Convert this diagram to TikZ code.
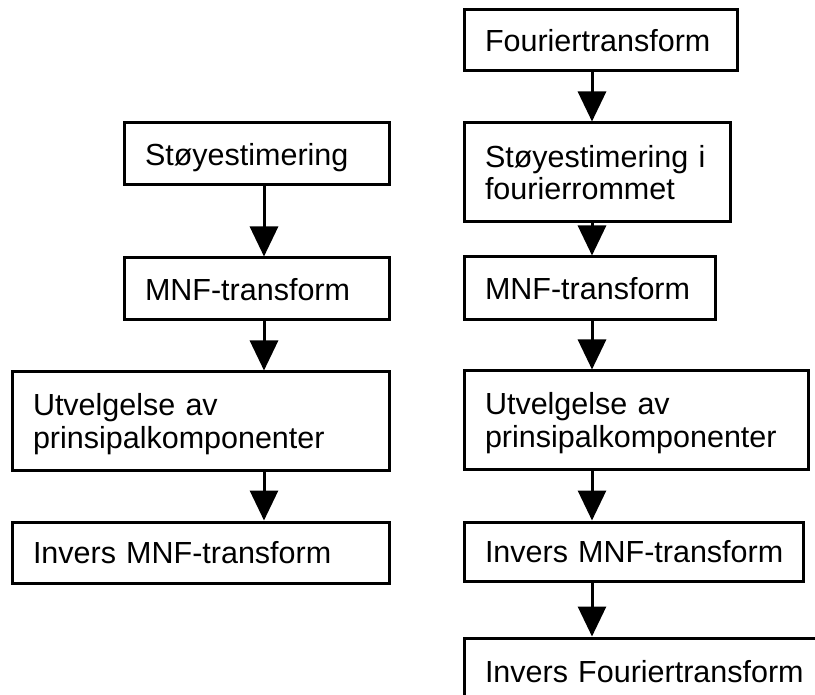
\documentclass[tikz,border=0pt]{standalone}
\usepackage{fontspec}
\setmainfont{Liberation Sans}
\usetikzlibrary{arrows.meta}
\begin{document}
\begin{tikzpicture}[x=1pt,y=-1pt,
  box/.style={draw=black, line width=3pt, rectangle, align=left,
    inner xsep=21pt, inner ysep=0pt, text depth=0pt,
    font=\fontsize{30.5}{32.5}\selectfont},
  twoline/.style={text depth=32.5pt},
  arr/.style={line width=3pt, -{Triangle[width=28pt,length=30pt]}}]
\useasboundingbox (0,0) rectangle (815,695);
\fill[white] (0,0) rectangle (815,695);
\clip (0,0) rectangle (815,695);

\coordinate (xl) at (264,0);
\coordinate (xr) at (592,0);

% left column
\node[box, text width=223pt, minimum height=62pt] (L1) at (256.5,154) {\mbox{Støyestimering}};
\node[box, text width=223pt, minimum height=62pt] (L2) at (256.5,289) {\mbox{MNF-transform}};
\node[box, twoline, text width=335pt, minimum height=98pt] (L3) at (200.5,421) {Utvelgelse av\\\mbox{prinsipalkomponenter}};
\node[box, text width=335pt, minimum height=61pt] (L4) at (200.5,552.5) {\mbox{Invers MNF-transform}};

% right column
\node[box, text width=231pt, minimum height=61pt] (R1) at (600.5,40.5) {\mbox{Fouriertransform}};
\node[box, twoline, text width=224pt, minimum height=99pt] (R2) at (597,172.5) {\mbox{Støyestimering i}\\fourierrommet};
\node[box, text width=209pt, minimum height=63pt] (R3) at (589.5,288.5) {\mbox{MNF-transform}};
\node[box, twoline, text width=302pt, minimum height=98pt] (R4) at (636,420) {Utvelgelse av\\\mbox{prinsipalkomponenter}};
\node[box, text width=297pt, minimum height=59pt] (R5) at (633.5,551.5) {\mbox{Invers MNF-transform}};
\node[box, text width=354pt, minimum height=66pt] (R6) at (662,671) {\mbox{Invers Fouriertransform}};

% arrows
\draw[arr] (L1.south -| xl) -- (L2.north -| xl);
\draw[arr] (L2.south -| xl) -- (L3.north -| xl);
\draw[arr] (L3.south -| xl) -- (L4.north -| xl);

\draw[arr] (R1.south -| xr) -- (R2.north -| xr);
\draw[arr] (R2.south -| xr) -- (R3.north -| xr);
\draw[arr] (R3.south -| xr) -- (R4.north -| xr);
\draw[arr] (R4.south -| xr) -- (R5.north -| xr);
\draw[arr] (R5.south -| xr) -- (R6.north -| xr);
\end{tikzpicture}
\end{document}
